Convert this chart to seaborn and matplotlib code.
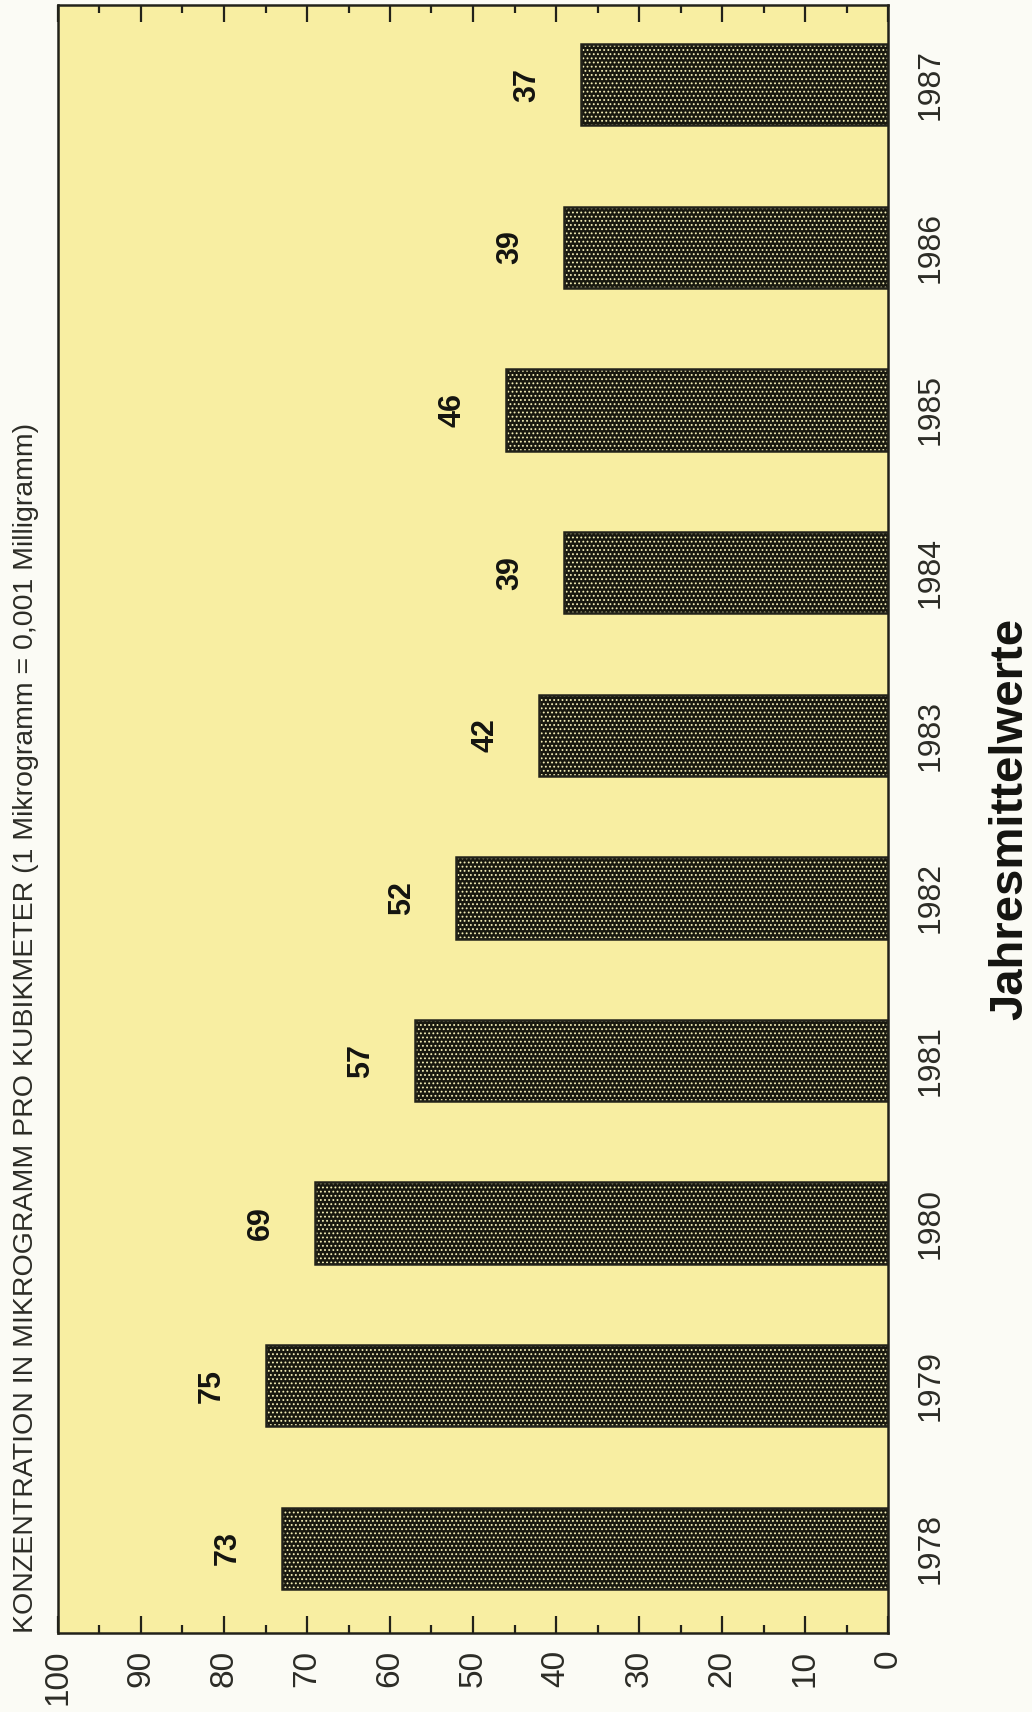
import matplotlib
matplotlib.use("Agg")
import matplotlib.pyplot as plt
from matplotlib.ticker import MultipleLocator
import seaborn as sns
import pandas as pd

# ---- data ----
years = ["1978", "1979", "1980", "1981", "1982", "1983", "1984", "1985", "1986", "1987"]
values = [73, 75, 69, 57, 52, 42, 39, 46, 39, 37]
value_ticks = [0, 10, 20, 30, 40, 50, 60, 70, 80, 90, 100]
title_text = "KONZENTRATION IN MIKROGRAMM PRO KUBIKMETER (1 Mikrogramm = 0,001 Milligramm)"
axis_text = "Jahresmittelwerte"

sns.set_theme(style="white")
plt.rcParams["font.family"] = ["Liberation Sans", "DejaVu Sans"]
plt.rcParams["hatch.linewidth"] = 0.8

BG_FIG = "#fbfbf5"
BG_AX = "#f8eea2"
DARK = "#18180f"
DOT = "#f4eeb6"
LINE = "#22221a"
TXT = "#2c2c26"

fig = plt.figure(figsize=(10.32, 17.12), dpi=100, facecolor=BG_FIG)
ax = fig.add_axes([58 / 1032, 79 / 1712, (888 - 58) / 1032, (1633 - 5) / 1712])
ax.set_facecolor(BG_AX)

df = pd.DataFrame({"Jahr": years, "Wert": values})
order = years[::-1]

sns.barplot(data=df, x="Wert", y="Jahr", order=order, orient="h", width=0.5,
            color=DARK, errorbar=None, ax=ax)
fill_patches = list(ax.patches)
for p in fill_patches:
    p.set_facecolor(DARK)
    p.set_edgecolor(DOT)
    p.set_hatch("....")
    p.set_linewidth(0)

sns.barplot(data=df, x="Wert", y="Jahr", order=order, orient="h", width=0.5,
            fill=False, color=LINE, linewidth=1.8, errorbar=None, ax=ax)

# value labels
for yr, v in zip(years, values):
    ax.text(v + 6.5, order.index(yr), str(v), rotation=90, ha="center", va="center",
            fontsize=22, fontweight="bold", color="#141410")

ax.set_xlim(100, 0)
ax.set_ylim(9.52, -0.49)
ax.set_xlabel("")
ax.set_ylabel("")

ax.set_xticks(value_ticks)
ax.set_xticklabels([str(t) for t in value_ticks], rotation=90, fontsize=24,
                   fontweight="normal", color=TXT)
ax.xaxis.set_minor_locator(MultipleLocator(5))
ax.tick_params(axis="x", which="both", direction="in", top=True, bottom=True,
               labeltop=False, labelbottom=True, color=LINE, width=1.6, pad=12)
ax.tick_params(axis="x", which="major", length=12)
ax.tick_params(axis="x", which="minor", length=6)

ax.yaxis.tick_right()
ax.tick_params(axis="y", which="both", length=0, pad=20, left=False, right=False)
for lab in ax.get_yticklabels():
    lab.set_rotation(90)
    lab.set_va("center")
    lab.set_fontsize(23)
    lab.set_fontweight("normal")
    lab.set_color(TXT)

for s in ax.spines.values():
    s.set_color(LINE)
    s.set_linewidth(1.8)
    s.set_visible(True)

fig.text(26 / 1032, 79 / 1712, title_text, rotation=90, ha="center", va="bottom",
         fontsize=20.5, fontweight="normal", color=TXT)
fig.text(1010 / 1032, 1 - 819 / 1712, axis_text, rotation=90, ha="center", va="center",
         fontsize=34, fontweight="bold", color="#141410")

fig.savefig("out.png", dpi=100, facecolor=BG_FIG)
